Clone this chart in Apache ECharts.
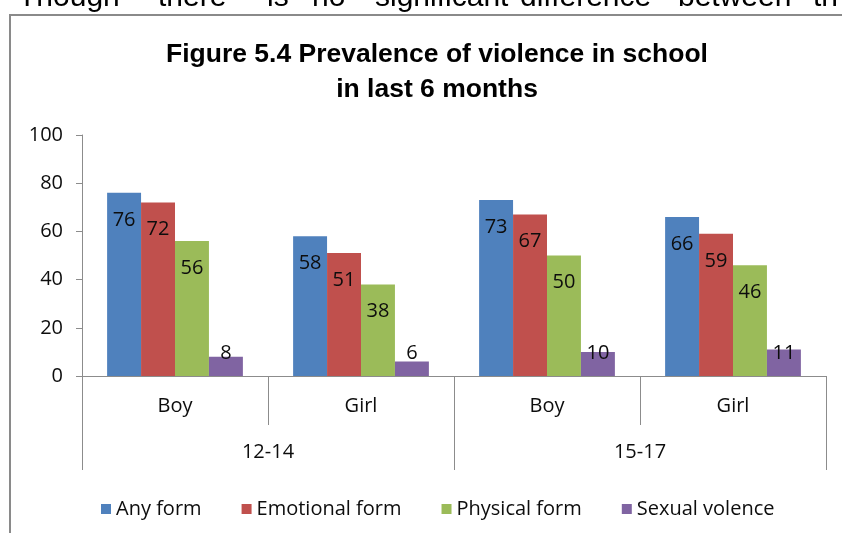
<!DOCTYPE html>
<html lang="en">

<head>
  <meta charset="utf-8">
  <title>Prevalence of violence in school</title>
  <script src="https://cdn.jsdelivr.net/npm/echarts@6.0.0/dist/echarts.min.js"></script>
  <style>
    html, body {
      margin: 0;
      padding: 0;
      background: #fff;
    }

    #main {
      width: 842px;
      height: 533px;
    }
  </style>
</head>

<body>
  <div id="main"></div>

  <script>
    // categories: inner level (sex) and outer level (age group)
    var sexLabels = ['Boy', 'Girl', 'Boy', 'Girl'];
    var ageLabels = ['12-14', '15-17'];

    // series names (legend text kept as in the original)
    var seriesNames = ['Any form', 'Emotional form', 'Physical form', 'Sexual volence'];

    // values in percent, one per category
    var anyForm = [76, 58, 73, 66];
    var emotionalForm = [72, 51, 67, 59];
    var physicalForm = [56, 38, 50, 46];
    var sexualViolence = [8, 6, 10, 11];

    // value axis
    var yMin = 0;
    var yMax = 100;
    var yStep = 20;

    var colors = ['#4F81BD', '#C0504D', '#9BBB59', '#8064A2'];
    var labelFont = '"Open Sans", "Liberation Sans", sans-serif';
    var axisColor = '#8c8c8c';

    // Excel style "inside end" labels: small bars get the label sitting low
    function buildData(values) {
      return values.map(function(v) {
        if (v < 15) {
          return { value: v, label: { position: 'insideBottom', distance: 13 } };
        }
        return { value: v, label: { position: 'insideTop', distance: 17 } };
      });
    }

    var allValues = [anyForm, emotionalForm, physicalForm, sexualViolence];
    var series = allValues.map(function(values, i) {
      return {
        name: seriesNames[i],
        type: 'bar',
        xAxisIndex: 0,
        barGap: '0%',
        barCategoryGap: '27%',
        itemStyle: { color: colors[i] },
        label: {
          show: true,
          color: '#0d0d0d',
          fontFamily: labelFont,
          fontSize: 20
        },
        data: buildData(values)
      };
    });

    // the page text above the chart frame, only partly visible
    var topWords = [
      ['Though', 18], ['there', 158], ['is', 267], ['no', 312],
      ['significant', 375], ['difference', 520], ['between', 678], ['th', 813]
    ];
    var graphics = topWords.map(function(w) {
      return {
        type: 'text',
        x: w[1],
        y: 13,
        silent: true,
        style: {
          text: w[0],
          fill: '#000',
          verticalAlign: 'bottom',
          font: '30px "Liberation Sans", Arial, sans-serif'
        }
      };
    });
    // chart frame, cut by the picture edges
    graphics.push({
      type: 'rect',
      shape: { x: 10, y: 15, width: 900, height: 600 },
      silent: true,
      style: { fill: null, stroke: '#8a8a8a', lineWidth: 2 }
    });

    var myChart = echarts.init(document.getElementById('main'));

    var option = {
      animation: false,
      backgroundColor: '#fff',
      title: {
        text: 'Figure 5.4 Prevalence of violence in school\nin last 6 months',
        left: 432,
        top: 32,
        textAlign: 'center',
        textStyle: {
          fontFamily: '"Liberation Sans", Arial, sans-serif',
          fontWeight: 'bold',
          fontSize: 26.5,
          lineHeight: 35,
          color: '#000'
        }
      },
      legend: {
        data: seriesNames,
        left: 96,
        top: 494,
        itemWidth: 10,
        itemHeight: 10,
        itemGap: 40,
        icon: 'rect',
        textStyle: {
          fontFamily: labelFont,
          fontSize: 20,
          color: '#0d0d0d'
        }
      },
      grid: {
        left: 82,
        right: 16,
        top: 135,
        bottom: 157
      },
      xAxis: [{
        type: 'category',
        position: 'bottom',
        data: sexLabels,
        axisLine: { show: true, lineStyle: { color: axisColor, width: 1 } },
        axisTick: { show: true, interval: 0, length: 49, lineStyle: { color: axisColor } },
        axisLabel: {
          margin: 20,
          color: '#0d0d0d',
          fontFamily: labelFont,
          fontSize: 20
        }
      }, {
        type: 'category',
        position: 'bottom',
        offset: 0,
        data: ageLabels,
        axisLine: { show: false },
        axisTick: { show: true, interval: 0, length: 94, lineStyle: { color: axisColor } },
        axisLabel: {
          margin: 66,
          color: '#0d0d0d',
          fontFamily: labelFont,
          fontSize: 20
        }
      }],
      yAxis: {
        type: 'value',
        min: yMin,
        max: yMax,
        interval: yStep,
        splitLine: { show: false },
        axisLine: { show: true, lineStyle: { color: axisColor } },
        axisTick: { show: true, length: 6, lineStyle: { color: axisColor } },
        axisLabel: {
          margin: 19,
          color: '#0d0d0d',
          fontFamily: labelFont,
          fontSize: 20
        }
      },
      graphic: graphics,
      series: series
    };

    myChart.setOption(option);
  </script>
</body>

</html>
